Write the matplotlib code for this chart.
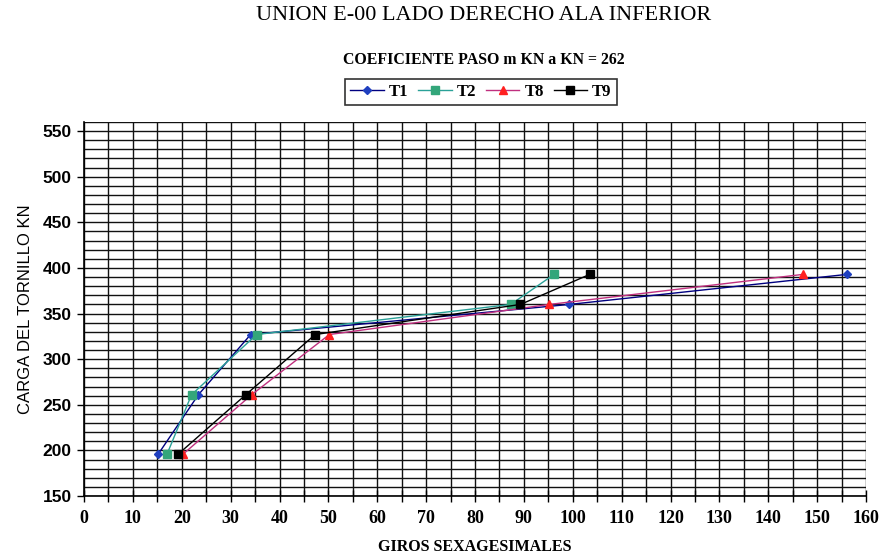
import matplotlib
matplotlib.use("Agg")
import matplotlib.pyplot as plt
from matplotlib.ticker import MultipleLocator

# carga del tornillo (KN) para cada escalon
t1_giros = [15.2, 23.4, 34.1, 99.3, 156.2]
t1_carga = [196, 261, 327, 360, 393]
t2_giros = [17.0, 22.0, 35.3, 87.3, 96.2]
t2_carga = [196, 261, 327, 360, 393]
t8_giros = [20.3, 34.3, 50.2, 95.2, 147.2]
t8_carga = [196, 261, 327, 360, 393]
t9_giros = [19.3, 33.1, 47.3, 89.3, 103.5]
t9_carga = [196, 261, 327, 360, 393]

serif = "Liberation Serif"
sans = "Liberation Sans"

fig = plt.figure(figsize=(8.94, 5.55), dpi=100)
ax = fig.add_axes([84 / 894, 1 - 496 / 555, (866 - 84) / 894, (496 - 122) / 555])

ax.plot(t1_giros, t1_carga, color="#000080", lw=1, marker="D", ms=4.5, mfc="#1f3fbf", mec="#1f3fbf", label="T1", zorder=5)
ax.plot(t2_giros, t2_carga, color="#2aa198", lw=1, marker="s", ms=5.5, mfc="#33a67a", mec="#33a67a", label="T2", zorder=5)
ax.plot(t8_giros, t8_carga, color="#c0307f", lw=1, marker="^", ms=6, mfc="#ff2020", mec="#ff2020", label="T8", zorder=5)
ax.plot(t9_giros, t9_carga, color="black", lw=1, marker="s", ms=6, mfc="black", mec="black", label="T9", zorder=6)

ax.set_xlim(0, 160)
ax.set_ylim(150, 560)
ax.xaxis.set_major_locator(MultipleLocator(10))
ax.xaxis.set_minor_locator(MultipleLocator(5))
ax.set_yticks(range(150, 551, 50))
ax.yaxis.set_minor_locator(MultipleLocator(10))

ax.grid(True, which="both", color="#111111", lw=1.0)
ax.set_axisbelow(True)
for s in ["top", "right"]:
    ax.spines[s].set_visible(False)
for s in ["left", "bottom"]:
    ax.spines[s].set_linewidth(1.2)

ax.tick_params(axis="x", which="both", direction="inout", length=8, width=1, pad=6)
ax.tick_params(axis="y", which="major", direction="out", length=5, width=1, pad=4)
ax.tick_params(axis="y", which="minor", length=0)

for lab in ax.get_xticklabels():
    lab.set_fontfamily(serif)
    lab.set_fontweight("bold")
    lab.set_fontsize(13)
for lab in ax.get_yticklabels():
    lab.set_fontfamily(sans)
    lab.set_fontweight("bold")
    lab.set_fontsize(12.5)

ax.set_xlabel("GIROS SEXAGESIMALES", family=serif, fontweight="bold", fontsize=11.5, labelpad=9)
ax.set_ylabel("CARGA DEL TORNILLO KN", family=sans, fontsize=12, labelpad=7)

fig.text(484 / 894, 1 - 16 / 555, "UNION E-00 LADO DERECHO ALA INFERIOR", family=serif,
         fontsize=16, ha="center", va="center")
fig.text(484 / 894, 1 - 60 / 555, "COEFICIENTE PASO m KN a KN = 262", family=serif,
         fontsize=11.4, fontweight="bold", ha="center", va="center")

leg = fig.legend(loc="center", bbox_to_anchor=(481 / 894, 1 - 92 / 555), ncol=4,
                 frameon=True, fancybox=False, edgecolor="black", handlelength=2.0,
                 columnspacing=0.6, handletextpad=0.3, borderpad=0.3,
                 prop={"family": serif, "weight": "bold", "size": 12})
leg.get_frame().set_linewidth(1.2)

fig.savefig("out.png", dpi=100, facecolor="white")
